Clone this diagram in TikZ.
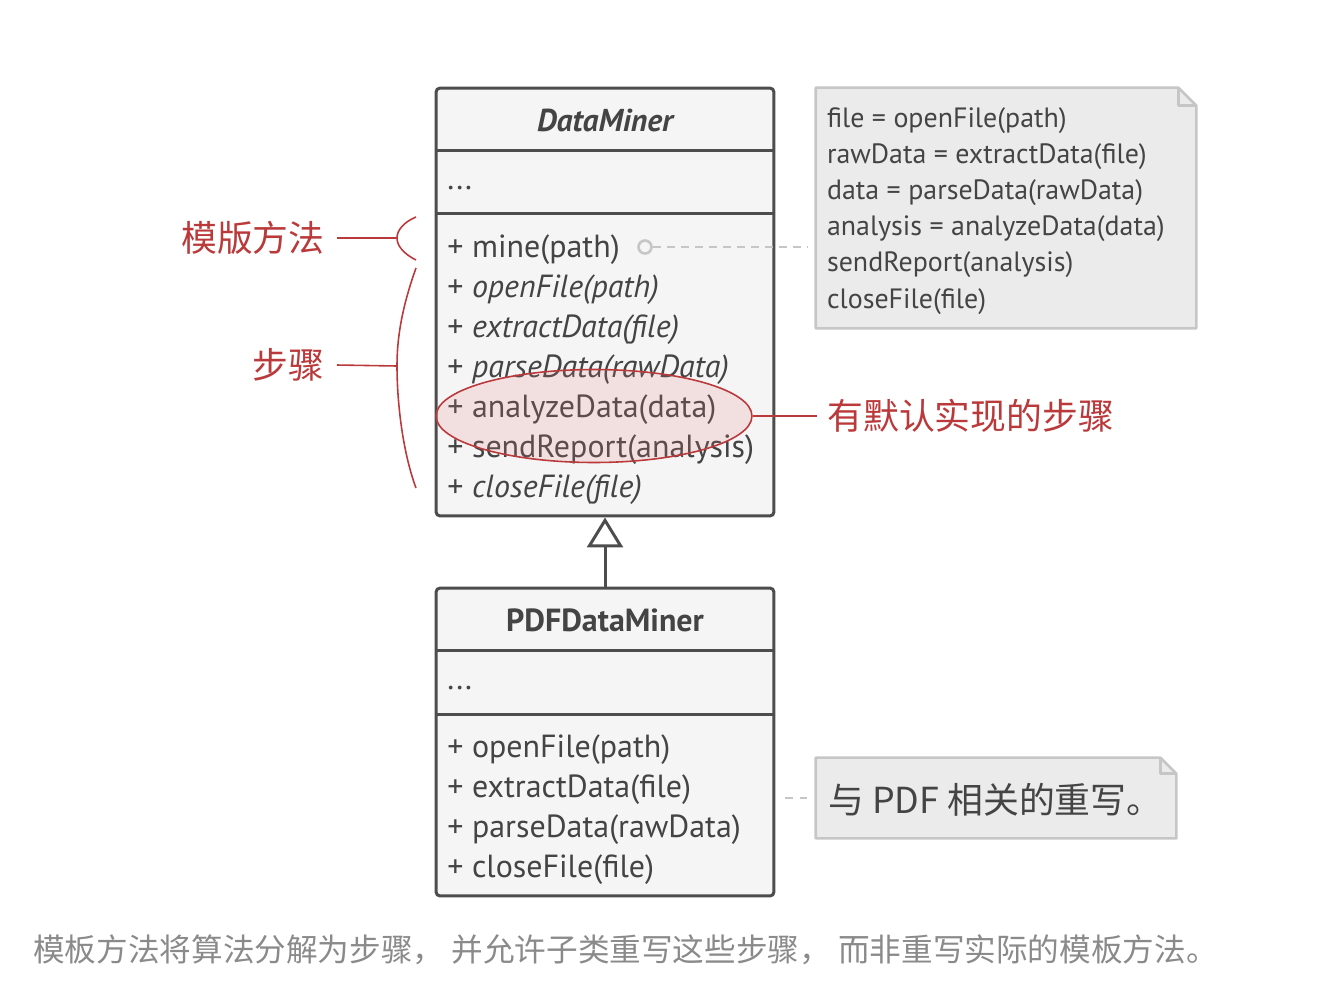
\documentclass[tikz,border=0pt]{standalone}
\usepackage{fontspec}
\setmainfont{PT Sans}
\newfontfamily\cjk{Noto Sans CJK SC}
\usetikzlibrary{calc,positioning,shapes.geometric,arrows.meta}
\definecolor{border}{RGB}{77,77,77}
\definecolor{boxfill}{RGB}{245,245,245}
\definecolor{notefill}{RGB}{235,235,235}
\definecolor{noteline}{RGB}{198,198,198}
\definecolor{redmark}{RGB}{186,57,59}
\definecolor{markfill}{RGB}{230,120,120}
\definecolor{txt}{RGB}{68,68,68}
\definecolor{captiongray}{RGB}{138,138,138}
\tikzset{%
  classbox/.style={draw=border, fill=boxfill, line width=1.7pt, rounded corners=0.08cm, minimum width=6.76cm, inner sep=0},
  divider/.style={draw=border, line width=1.7pt},
  member/.style={anchor=west, inner sep=0, text=txt, font=\fontsize{18.2}{21}\selectfont},% class members
  title/.style={inner sep=0, text=txt, font=\fontsize{18.2}{21}\selectfont\bfseries},
  notebox/.style={draw=noteline, fill=notefill, line width=1.5pt, line join=round},
  notetext/.style={anchor=north west, align=left, inner sep=0, text=txt, font=\fontsize{15.9}{20.5}\selectfont},
  link/.style={draw=noteline, line width=1.6pt, dash pattern=on 4.5pt off 3.5pt},% dashed note links
  remark/.style={draw=redmark, line width=0.9pt},
  redlabel/.style={text=redmark, inner sep=0, font=\cjk\fontsize{20.4}{24}\selectfont}
}
\begin{document}
\begin{tikzpicture}[x=0.02cm, y=-0.02cm]
\useasboundingbox (0,0) rectangle (1322,988);

% DataMiner
\node[classbox, minimum height=8.56cm] (dm) at (605,302) {};
\draw[divider] ($(dm.north west)+(0,64)$) -- ($(dm.north east)+(0,64)$);
\draw[divider] ($(dm.north west)+(0,127)$) -- ($(dm.north east)+(0,127)$);
\node[title, font=\fontsize{18}{21}\selectfont\bfseries\itshape] (dmt) at (605,120) {DataMiner};
\node[member] (dma) at (447,188) {...};
\node[member] (m1) at (447,250) {+ mine(path)};
\node[member] (m2) at (447,290) {+ \textit{openFile(path)}};
\node[member] (m3) at (447,330) {+ \textit{extractData(file)}};
\node[member] (m4) at (447,370) {+ \textit{parseData(rawData)}};
\node[member] (m5) at (447,410) {+ analyzeData(data)};
\node[member] (m6) at (447,450) {+ sendReport(analysis)};
\node[member] (m7) at (447,490) {+ \textit{closeFile(file)}};

% PDFDataMiner
\node[classbox, minimum height=6.16cm] (pdf) at (605,742) {};
\draw[divider] ($(pdf.north west)+(0,64)$) -- ($(pdf.north east)+(0,64)$);
\draw[divider] ($(pdf.north west)+(0,128)$) -- ($(pdf.north east)+(0,128)$);
\node[title] (pdft) at (605,620) {PDFDataMiner};
\node[member] (pdfa) at (447,688) {...};
\node[member] (p1) at (447,750) {+ openFile(path)};
\node[member] (p2) at (447,790) {+ extractData(file)};
\node[member] (p3) at (447,830) {+ parseData(rawData)};
\node[member] (p4) at (447,870) {+ closeFile(file)};

\draw[border, line width=1.7pt, -{Triangle[fill=white, length=0.6cm, width=0.72cm, line width=1.7pt]}] (pdf.north) -- (dm.south);

% notes
\node[minimum width=7.6cm, minimum height=4.8cm, inner sep=0] (n1) at (1006,208) {};
\filldraw[notebox] (n1.north west) -- ($(n1.north east)+(-18,0)$) -- ($(n1.north east)+(0,18)$) -- (n1.south east) -- (n1.south west) -- cycle;
\draw[notebox, fill=none] ($(n1.north east)+(-18,0)$) -- ($(n1.north east)+(-18,18)$) -- ($(n1.north east)+(0,18)$);
\node[notetext] (n1t) at ($(n1.north west)+(11,20)$) {file = openFile(path)\\rawData = extractData(file)\\data = parseData(rawData)\\analysis = analyzeData(data)\\sendReport(analysis)\\closeFile(file)};
\node[circle, draw=noteline, line width=1.5pt, fill=boxfill, minimum size=0.26cm, inner sep=0] (mc) at (645,247) {};
\draw[link] (mc) -- ($(n1.west |- mc)+(-8,0)$);

\node[minimum width=7.2cm, minimum height=1.6cm, inner sep=0] (n2) at (996,798) {};
\filldraw[notebox] (n2.north west) -- ($(n2.north east)+(-16,0)$) -- ($(n2.north east)+(0,16)$) -- (n2.south east) -- (n2.south west) -- cycle;
\draw[notebox, fill=none] ($(n2.north east)+(-16,0)$) -- ($(n2.north east)+(-16,16)$) -- ($(n2.north east)+(0,16)$);
\node[anchor=west, inner sep=0, text=txt, font=\cjk\fontsize{20.4}{24}\selectfont] (n2t) at (828,800) {与 PDF 相关的重写。};
\draw[link] ($(pdf.east |- n2.west)+(10,0)$) -- ($(n2.west)+(-6,0)$);

% red remarks
\node[redlabel, anchor=east] (tm) at (325,238) {模版方法};
\node[redlabel, anchor=east] (st) at (325,365) {步骤};
\coordinate (tmb) at (397,238);
\coordinate (stb) at (397,366);
\draw[remark] ($(tm.east)+(12,0)$) -- (tmb);
\draw[remark] (416,217) .. controls (404,222) and (397,230) .. (tmb) .. controls (397,246) and (404,254) .. (416,260);
\draw[remark] ($(st.east)+(12,0)$) -- (stb);
\draw[remark] (416,268) .. controls (401,310) and (397,340) .. (stb) .. controls (397,400) and (402,450) .. (416,488);

\node[ellipse, draw=redmark, line width=0.9pt, fill=markfill, fill opacity=0.16, minimum width=6.32cm, minimum height=1.86cm] (em) at (594,416) {};
\node[redlabel, anchor=west] (dl) at (827,416) {有默认实现的步骤};
\draw[remark] (em.east) -- ($(em.east -| dl.west)+(-10,0)$);

\node[anchor=west, inner sep=0, text=captiongray, font=\cjk\fontsize{18}{21}\selectfont] (cap) at (33,950) {模板方法将算法分解为步骤， 并允许子类重写这些步骤， 而非重写实际的模板方法。};
\end{tikzpicture}
\end{document}
